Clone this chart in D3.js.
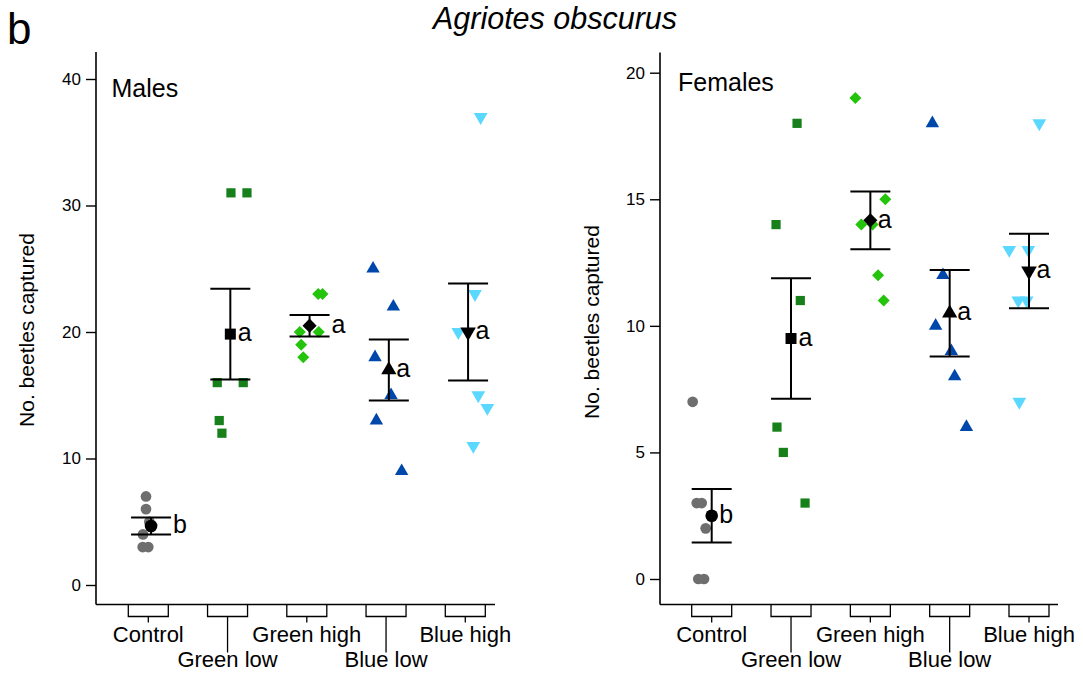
<!DOCTYPE html>
<html>
<head>
<meta charset="utf-8">
<script src="https://cdn.jsdelivr.net/npm/d3@7"></script>
<style>
  body { margin: 0; background: #fff; }
  svg { display: block; }
  text { font-family: "Liberation Sans", Arial, sans-serif; fill: #000; }
</style>
</head>
<body>
<svg id="chart" width="1083" height="677"></svg>
<script>
// Treatment groups, in plotting order
const categories = ["Control", "Green low", "Green high", "Blue low", "Blue high"];

// Beetles captured per trap (Agriotes obscurus)
const malesValues = [
  [7, 6, 5, 4, 3, 3],
  [31, 31, 16, 16, 13, 12],
  [23, 23, 20, 20, 19, 18],
  [25, 22, 18, 15, 13, 9],
  [37, 23, 20, 15, 14, 11]
];
const femalesValues = [
  [7, 3, 3, 2, 0, 0],
  [18, 14, 11, 6, 5, 3],
  [19, 15, 14, 14, 12, 11],
  [18, 12, 10, 9, 8, 6],
  [18, 13, 13, 11, 11, 7]
];

// Horizontal jitter of the raw points, as a fraction of the category step
const malesJitter = [
  [-0.029, -0.029, 0.013, -0.067, -0.071, 0.0],
  [0.043, 0.245, -0.130, 0.198, -0.105, -0.071],
  [0.144, 0.198, -0.088, 0.151, -0.071, -0.045],
  [-0.164, 0.092, -0.139, 0.063, -0.122, 0.197],
  [0.194, 0.122, -0.088, 0.164, 0.278, 0.101]
];
const femalesJitter = [
  [-0.240, -0.189, -0.126, -0.076, -0.169, -0.097],
  [0.076, -0.189, 0.117, -0.177, -0.097, 0.177],
  [-0.189, 0.189, -0.114, 0.029, 0.097, 0.168],
  [-0.218, -0.085, -0.177, 0.021, 0.063, 0.211],
  [0.130, -0.249, -0.009, -0.135, -0.029, -0.122]
];

// Significance letters (Tukey groups)
const malesLetters = ["b", "a", "a", "a", "a"];
const femalesLetters = ["b", "a", "a", "a", "a"];

// Y tick labels
const malesTicks = [0, 10, 20, 30, 40];
const femalesTicks = [0, 5, 10, 15, 20];

// Marker appearance per treatment
const groupColors = ["#6e6e6e", "#17801a", "#24c40c", "#0047ab", "#5bd8ff"];
const groupShapes = [
  { type: d3.symbolCircle,   rot: 0,   size: 90,  meanSize: 125 },
  { type: d3.symbolSquare,   rot: 0,   size: 85,  meanSize: 121 },
  { type: d3.symbolSquare,   rot: 45,  size: 72,  meanSize: 100 },
  { type: d3.symbolTriangle, rot: 0,   size: 78,  meanSize: 100 },
  { type: d3.symbolTriangle, rot: 180, size: 82,  meanSize: 105 }
];

const svg = d3.select("#chart");

// Figure title and panel letter
svg.append("text")
  .attr("x", 555).attr("y", 29)
  .attr("text-anchor", "middle")
  .style("font-size", "30.5px").style("font-style", "italic")
  .text("Agriotes obscurus");
svg.append("text")
  .attr("x", 7).attr("y", 44)
  .style("font-size", "44px")
  .text("b");

function drawPanel(p) {
  const g = svg.append("g");
  const x = d3.scalePoint().domain(categories).range(p.xRange);
  const step = x.step();
  const y = d3.scaleLinear().domain(p.yDomain).range(p.yRange);

  // Axis lines
  g.append("line")
    .attr("x1", p.axisX).attr("x2", p.axisX)
    .attr("y1", p.axisTop).attr("y2", p.axisBottom)
    .attr("stroke", "#000").attr("stroke-width", 1.6);
  g.append("line")
    .attr("x1", p.axisX).attr("x2", p.axisRight)
    .attr("y1", p.axisBottom).attr("y2", p.axisBottom)
    .attr("stroke", "#000").attr("stroke-width", 1.6);

  // Y axis ticks and labels
  const yAxis = d3.axisLeft(y).tickValues(p.ticks).tickSize(10).tickPadding(5).tickFormat(d3.format("d"));
  const ya = g.append("g").attr("transform", `translate(${p.axisX},0)`).call(yAxis);
  ya.select(".domain").remove();
  ya.selectAll(".tick line").attr("stroke", "#000").attr("stroke-width", 1.4);
  ya.selectAll(".tick text")
    .style("font-size", "17px")
    .style("font-family", '"Liberation Sans", Arial, sans-serif')
    .attr("fill", "#000");

  // Y axis title
  g.append("text")
    .attr("transform", `translate(${p.titleX},${p.titleY}) rotate(-90)`)
    .attr("text-anchor", "middle")
    .style("font-size", "21px")
    .text("No. beetles captured");

  // Panel label
  g.append("text")
    .attr("x", p.labelX).attr("y", p.labelY)
    .style("font-size", "25px")
    .text(p.label);

  // Category brackets and staggered labels
  categories.forEach((c, i) => {
    const cx = x(c);
    const b0 = p.axisBottom;
    const b1 = b0 + 12;
    g.append("path")
      .attr("d", `M${cx - 20},${b0} V${b1} H${cx + 20} V${b0}`)
      .attr("fill", "none").attr("stroke", "#000").attr("stroke-width", 1.3);
    g.append("line")
      .attr("x1", cx).attr("x2", cx)
      .attr("y1", b1).attr("y2", i % 2 ? b0 + 48 : b0 + 18)
      .attr("stroke", "#000").attr("stroke-width", 1.3);
    g.append("text")
      .attr("x", cx).attr("y", i % 2 ? b0 + 62.5 : b0 + 37.5)
      .attr("text-anchor", "middle")
      .style("font-size", "22px")
      .text(c);
  });

  // Raw points
  categories.forEach((c, i) => {
    const shape = groupShapes[i];
    const sym = d3.symbol().type(shape.type).size(shape.size);
    p.values[i].forEach((v, k) => {
      g.append("path")
        .attr("d", sym())
        .attr("transform", `translate(${x(c) + p.jitter[i][k] * step},${y(v)}) rotate(${shape.rot})`)
        .attr("fill", groupColors[i]);
    });
  });

  // Means with standard error bars
  categories.forEach((c, i) => {
    const vals = p.values[i];
    const m = d3.mean(vals);
    const se = d3.deviation(vals) / Math.sqrt(vals.length);
    const mx = x(c) + p.meanShift * step;
    const my = y(m);
    const yTop = y(m + se), yBot = y(m - se);
    const lineAttrs = sel => sel.attr("stroke", "#000").attr("stroke-width", 2);
    g.append("line").attr("x1", mx).attr("x2", mx).attr("y1", yTop).attr("y2", yBot).call(lineAttrs);
    g.append("line").attr("x1", mx - 20).attr("x2", mx + 20).attr("y1", yTop).attr("y2", yTop).call(lineAttrs);
    g.append("line").attr("x1", mx - 20).attr("x2", mx + 20).attr("y1", yBot).attr("y2", yBot).call(lineAttrs);

    const shape = groupShapes[i];
    g.append("path")
      .attr("d", d3.symbol().type(shape.type).size(shape.meanSize)())
      .attr("transform", `translate(${mx},${my}) rotate(${shape.rot})`)
      .attr("fill", "#000");

    // Letter sits beside the mean, or past the caps when the bar is short
    const capGap = Math.abs(my - yTop);
    const lx = capGap < 14 ? mx + 22 : mx + 7.5;
    g.append("text")
      .attr("x", lx).attr("y", my + 7.3)
      .style("font-size", "25px")
      .text(p.letters[i]);
  });
}

drawPanel({
  label: "Males", labelX: 111.5, labelY: 97,
  values: malesValues, jitter: malesJitter, letters: malesLetters, ticks: malesTicks,
  xRange: [148.3, 465.3], yDomain: [0, 40], yRange: [585, 79],
  axisX: 96, axisRight: 495, axisTop: 52, axisBottom: 604.5,
  meanShift: 0.035,
  titleX: 33.5, titleY: 330
});

drawPanel({
  label: "Females", labelX: 678, labelY: 91,
  values: femalesValues, jitter: femalesJitter, letters: femalesLetters, ticks: femalesTicks,
  xRange: [711.7, 1029], yDomain: [0, 20], yRange: [579, 72.7],
  axisX: 660, axisRight: 1058, axisTop: 52.5, axisBottom: 604.5,
  meanShift: 0,
  titleX: 599, titleY: 322
});
</script>
</body>
</html>
